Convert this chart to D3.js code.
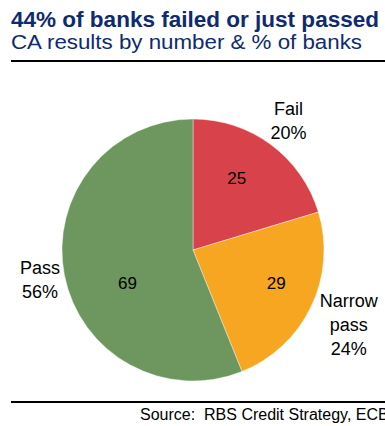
<!DOCTYPE html>
<html>
<head>
<meta charset="utf-8">
<script src="https://cdn.jsdelivr.net/npm/d3@7"></script>
<style>
  html, body { margin: 0; padding: 0; background: #fff; }
  svg { display: block; font-family: Arial, "Liberation Sans", sans-serif; }
</style>
</head>
<body>
<svg id="chart" width="385" height="426"></svg>
<script>
// Comprehensive Assessment outcome, number of banks per group
const categories = ["Fail", "Narrow pass", "Pass"];
const counts = [25, 29, 69];
const percentLabels = ["20%", "24%", "56%"];
const colors = ["#d8434b", "#f6a620", "#6d975e"];

const svg = d3.select("#chart");
const W = 385;

// Header
svg.append("text").attr("x", 11).attr("y", 27)
  .attr("font-size", 21.5).attr("font-weight", "bold").attr("fill", "#0f2a6e")
  .attr("textLength", 368).attr("lengthAdjust", "spacingAndGlyphs")
  .text("44% of banks failed or just passed");
svg.append("text").attr("x", 11).attr("y", 49)
  .attr("font-size", 20.5).attr("fill", "#0f2a6e")
  .attr("textLength", 351).attr("lengthAdjust", "spacingAndGlyphs")
  .text("CA results by number & % of banks");
svg.append("line").attr("x1", 11).attr("x2", W).attr("y1", 61).attr("y2", 61)
  .attr("stroke", "#000").attr("stroke-width", 2);

// Pie
const cx = 193, cy = 250, r = 131;
const pie = d3.pie().sort(null).value(d => d)(counts);
const arc = d3.arc().innerRadius(0).outerRadius(r);
const g = svg.append("g").attr("transform", `translate(${cx},${cy})`);
g.selectAll("path").data(pie).join("path")
  .attr("d", arc)
  .attr("fill", (d, i) => colors[i])
  .attr("stroke", "#fff").attr("stroke-width", 0.4);

// Count labels inside slices, nudged off the centroid for legibility
const inner = d3.arc().innerRadius(r * 0.65).outerRadius(r * 0.65);
const countNudge = [[-7, -3.5], [6.5, -4], [18, 17]];
g.selectAll("text.count").data(pie).join("text")
  .attr("class", "count")
  .attr("transform", (d, i) => {
    const [x, y] = inner.centroid(d);
    return `translate(${x + countNudge[i][0]},${y + countNudge[i][1]})`;
  })
  .attr("text-anchor", "middle").attr("dy", "0.35em")
  .attr("font-size", 17).attr("fill", "#000")
  .text(d => d.data);

// Category labels outside the pie: the label box sits just off the rim
// along the slice's mid angle.
const lineH = 24, gap = 1;
pie.forEach((d, i) => {
  const lines = categories[i].split(" ").concat([percentLabels[i]]);
  const t = g.append("text").attr("text-anchor", "middle")
    .attr("font-size", 18).attr("fill", "#000");
  lines.forEach((s, k) => {
    t.append("tspan").attr("x", 0).attr("y", k * lineH).text(s);
  });
  const bb = t.node().getBBox();
  const mid = (d.startAngle + d.endAngle) / 2;
  const ux = Math.sin(mid), uy = -Math.cos(mid);
  const support = Math.abs(ux) * bb.width / 2 + Math.abs(uy) * bb.height / 2;
  const dist = r + gap + support;
  const bx = bb.x + bb.width / 2, by = bb.y + bb.height / 2;
  t.attr("transform", `translate(${ux * dist - bx},${uy * dist - by})`);
});

// Footer
svg.append("line").attr("x1", 11).attr("x2", W).attr("y1", 402).attr("y2", 402)
  .attr("stroke", "#000").attr("stroke-width", 2);
svg.append("text").attr("x", 140).attr("y", 420)
  .attr("font-size", 16).attr("fill", "#000")
  .attr("xml:space", "preserve")
  .text("Source:  RBS Credit Strategy, ECB");
</script>
</body>
</html>
